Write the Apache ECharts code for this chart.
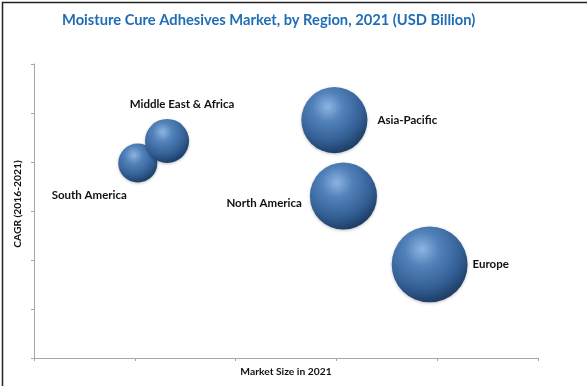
<!DOCTYPE html>
<html><head><meta charset="utf-8">
<script src="https://cdn.jsdelivr.net/npm/echarts@6/dist/echarts.min.js"></script>
<style>html,body{margin:0;padding:0;background:#fff}#c{width:587px;height:386px}</style>
</head><body><div id="c"></div>
<script>
const regions = ['South America', 'Middle East & Africa', 'Asia-Pacific', 'North America', 'Europe'];
const marketSize = [2.06, 2.64, 5.96, 6.14, 7.85];
const cagr = [7.96, 8.86, 9.71, 6.61, 3.82];
const bubbleValue = [1.7, 2.15, 4.85, 5.0, 6.4];

const labelCfg = {
  'South America': {position: [-29, 52], align: 'center', verticalAlign: 'middle'},
  'Middle East & Africa': {position: [37, -15], align: 'center', verticalAlign: 'middle'},
  'Asia-Pacific': {position: 'right', distance: 10},
  'North America': {position: 'left', distance: 8, offset: [0, 7]},
  'Europe': {position: 'right', distance: 5}
};

const chart = echarts.init(document.getElementById('c'), null, {renderer: 'canvas'});
const sphere = {
  type: 'radial', x: 0.4, y: 0.3, r: 0.75,
  colorStops: [
    {offset: 0, color: '#8db4e2'},
    {offset: 0.3, color: '#5282ba'},
    {offset: 0.7, color: '#325e94'},
    {offset: 1, color: '#1a365a'}
  ]
};
const data = regions.map((r, i) => ({
  name: r,
  value: [marketSize[i], cagr[i], bubbleValue[i]],
  label: Object.assign({show: true, formatter: r}, labelCfg[r])
}));
chart.setOption({
  animation: false,
  title: {
    text: 'Moisture Cure Adhesives Market, by Region, 2021 (USD Billion)',
    left: 57, top: 8,
    textStyle: {color: '#1f6db4', fontFamily: 'Lato', fontWeight: 'bold', fontSize: 14.7}
  },
  graphic: [{
    type: 'rect', left: 0, top: 0,
    shape: {x: 0.5, y: 0.5, width: 586, height: 385},
    style: {fill: 'none', stroke: '#222', lineWidth: 1.5}, silent: true, z: 100
  }],
  grid: {left: 34, right: 49, top: 64, bottom: 28},
  xAxis: {
    type: 'value', min: 0, max: 10, interval: 2,
    name: 'Market Size in 2021', nameLocation: 'middle', nameGap: 9,
    nameTextStyle: {color: '#111', fontFamily: 'Lato', fontWeight: 'bold', fontSize: 10.3},
    axisLine: {show: true, lineStyle: {color: '#a6a6a6'}},
    axisTick: {show: true, length: 3, lineStyle: {color: '#a6a6a6'}},
    axisLabel: {show: false}, splitLine: {show: false}
  },
  yAxis: {
    type: 'value', min: 0, max: 12, interval: 2,
    name: 'CAGR (2016-2021)', nameLocation: 'middle', nameGap: 11,
    nameTextStyle: {color: '#111', fontFamily: 'Lato', fontWeight: 'bold', fontSize: 10.3, padding: [0, 0, 0, 14]},
    axisLine: {show: true, lineStyle: {color: '#a6a6a6'}},
    axisTick: {show: true, length: 3, lineStyle: {color: '#a6a6a6'}},
    axisLabel: {show: false}, splitLine: {show: false}
  },
  series: [{
    type: 'scatter',
    data: data,
    symbolSize: v => 30 * Math.sqrt(v[2]),
    itemStyle: {color: sphere, opacity: 1, shadowBlur: 3, shadowColor: 'rgba(0,0,0,0.25)', shadowOffsetY: 1},
    label: {color: '#111', fontFamily: 'Lato', fontWeight: 'bold', fontSize: 11.5}
  }]
});
</script></body></html>
